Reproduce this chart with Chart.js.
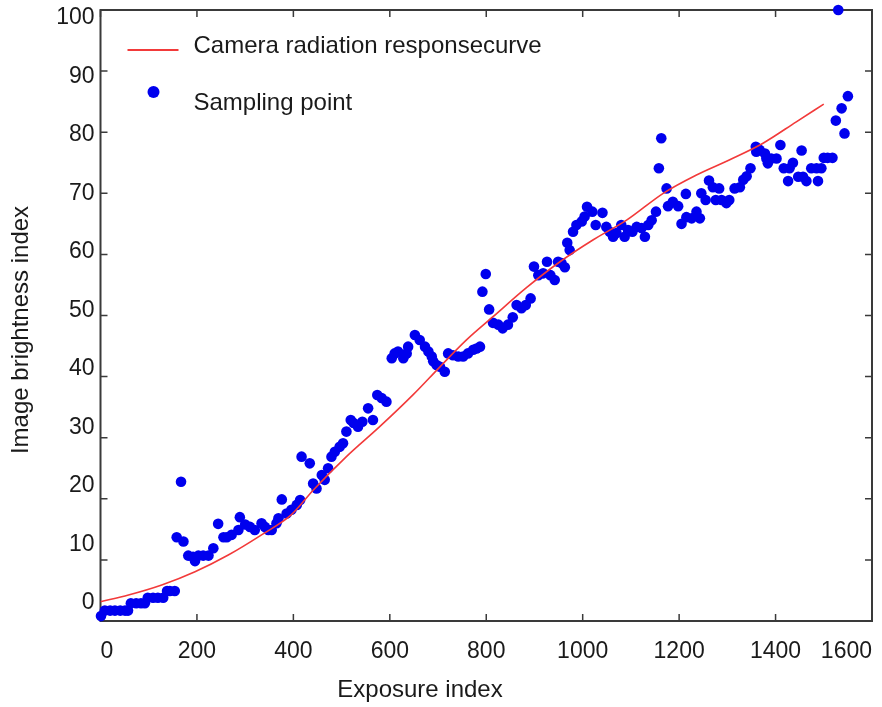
<!DOCTYPE html>
<html lang="en">
<head>
    <meta charset="UTF-8">
    <title>Camera radiation response</title>
    <script src="https://cdn.jsdelivr.net/npm/chart.js"></script>
    <style>
        html, body { margin: 0; padding: 0; background: #fff; }
    </style>
</head>
<body>
    <canvas id="responseChart" width="882" height="707"></canvas>

    <script>
        // values
        const sampleExposure = [
            1, 9, 20, 30, 41, 51, 57, 63, 74, 84, 92, 98, 109, 119, 130, 138, 144, 154,
            158, 167, 172, 182, 192, 196, 203, 213, 224, 234, 244, 255, 262, 272, 286, 289,
            300, 310, 320, 334, 341, 348, 355, 365, 369, 376, 386, 396, 407, 414, 417, 434,
            441, 448, 459, 465, 472, 479, 486, 496, 503, 510, 519, 525, 534, 543, 555, 565,
            574, 583, 593, 604, 610, 617, 628, 635, 638, 652, 662, 673, 680, 687, 690, 697,
            704, 714, 721, 731, 742, 752, 762, 773, 780, 787, 792, 799, 806, 814, 825, 834,
            845, 855, 863, 873, 882, 892, 899, 908, 918, 926, 933, 942, 949, 956, 963, 968,
            973, 980, 987, 998, 1004, 1009, 1020, 1027, 1041, 1049, 1056, 1063, 1070, 1080,
            1087, 1094, 1103, 1112, 1122, 1129, 1136, 1143, 1152, 1158, 1163, 1174, 1177,
            1187, 1198, 1205, 1214, 1215, 1226, 1236, 1243, 1246, 1255, 1262, 1270, 1276,
            1283, 1288, 1298, 1304, 1315, 1326, 1333, 1340, 1348, 1359, 1360, 1367, 1378,
            1381, 1384, 1391, 1402, 1410, 1417, 1426, 1429, 1436, 1447, 1454, 1457, 1464,
            1474, 1485, 1488, 1495, 1500, 1508, 1518, 1525, 1530, 1537, 1543, 1550
        ];
        const sampleBrightness = [
            0.8, 1.7, 1.7, 1.7, 1.7, 1.7, 1.7, 2.9, 2.9, 2.9, 2.9, 3.8, 3.8, 3.8, 3.8, 4.9, 4.9, 4.9,
            13.7, 22.8, 13.0, 10.7, 10.5, 9.8, 10.7, 10.7, 10.7, 11.9, 15.9, 13.7, 13.7, 14.1, 14.9, 17.0,
            15.8, 15.4, 14.9, 16.0, 15.4, 14.9, 14.9, 16.0, 16.8, 19.9, 17.6, 18.2, 19.0, 19.8, 26.9, 25.8,
            22.5, 21.7, 23.9, 23.1, 25.0, 26.9, 27.7, 28.5, 29.1, 31.0, 32.9, 32.4, 31.8, 32.6, 34.8, 32.9,
            37.0, 36.5, 35.9, 43.0, 43.8, 44.1, 43.0, 43.8, 44.9, 46.8, 46.0, 44.9, 44.1, 43.3, 42.5, 41.9,
            41.6, 40.8, 43.8, 43.5, 43.3, 43.3, 43.8, 44.4, 44.6, 44.9, 53.9, 56.8, 51.0, 48.8, 48.5, 47.9,
            48.5, 49.7, 51.7, 51.2, 51.7, 52.8, 58.0, 56.6, 56.9, 58.8, 56.6, 55.8, 58.8, 58.6, 57.9, 61.9,
            60.7, 63.7, 64.8, 65.4, 66.2, 67.8, 67.0, 64.8, 66.8, 64.5, 63.7, 62.9, 63.5, 64.8,
            62.9, 64.0, 63.7, 64.5, 64.3, 62.9, 64.8, 65.6, 67.0, 74.1, 79.0, 70.8, 67.9,
            68.6, 67.9, 65.0, 69.9, 66.1, 65.9, 67.0, 65.9, 70.0, 68.9, 72.1, 71.0, 68.9,
            70.8, 68.9, 68.4, 68.9, 70.8, 71.0, 72.2, 72.8, 74.1, 77.6, 76.8, 77.1, 76.5,
            75.7, 74.9, 75.7, 75.7, 77.9, 74.1, 72.0, 74.1, 75.0, 72.7, 77.0, 72.7, 72.0,
            74.1, 74.1, 72.0, 74.1, 75.8, 75.8, 75.8, 81.9, 100, 83.9, 79.8, 85.9
        ];
        const curveExposure = [0, 58, 127, 196, 265, 334, 396, 441, 510, 579, 648, 704, 759, 814, 884, 953, 1022, 1091, 1167, 1236, 1305, 1374, 1443, 1500];
        const curveBrightness = [3.16, 4.26, 5.9, 8.07, 10.8, 14.1, 17.4, 21.4, 26.9, 31.8, 37.0, 41.6, 46.0, 49.8, 54.6, 58.8, 62.4, 65.6, 70.0, 73.0, 75.5, 78.2, 81.7, 84.6];
        const xTicks = [0, 200, 400, 600, 800, 1000, 1200, 1400, 1600];
        const yTicks = [0, 10, 20, 30, 40, 50, 60, 70, 80, 90, 100];
        const xTitle = 'Exposure index';
        const yTitle = 'Image brightness index';

        const textColor = '#1a1a1a';
        const axisColor = '#3a3a3a';
        const redColor = '#f23a3a';
        const blueColor = '#0000ee';
        const fontFamily = 'Arial, "Liberation Sans", sans-serif';

        // plot frame with inward ticks, like the original figure
        const boxPlugin = {
            id: 'box',
            beforeDatasetsDraw(chart) {
                const { ctx, chartArea: a } = chart;
                const xs = chart.scales.x, ys = chart.scales.y;
                const len = 7;
                ctx.save();
                ctx.strokeStyle = axisColor;
                ctx.lineWidth = 2;
                ctx.strokeRect(a.left, a.top, a.right - a.left, a.bottom - a.top);
                ctx.lineWidth = 1.5;
                ctx.beginPath();
                xTicks.forEach(v => {
                    const px = xs.getPixelForValue(v);
                    ctx.moveTo(px, a.bottom); ctx.lineTo(px, a.bottom - len);
                    ctx.moveTo(px, a.top); ctx.lineTo(px, a.top + len);
                });
                yTicks.forEach(v => {
                    const py = ys.getPixelForValue(v);
                    ctx.moveTo(a.left, py); ctx.lineTo(a.left + len, py);
                    ctx.moveTo(a.right, py); ctx.lineTo(a.right - len, py);
                });
                ctx.stroke();
                ctx.restore();
            }
        };

        // legend inside the plot (top left) and the two axis titles,
        // which sit a bit off-centre in the original
        const legendPlugin = {
            id: 'innerLegend',
            afterDraw(chart) {
                const { ctx, chartArea: a } = chart;
                const line = chart.data.datasets[0], pts = chart.data.datasets[1];
                ctx.save();
                ctx.font = '24px ' + fontFamily;
                ctx.fillStyle = textColor;
                ctx.textBaseline = 'middle';
                ctx.textAlign = 'left';

                ctx.strokeStyle = line.borderColor;
                ctx.lineWidth = 2;
                ctx.beginPath();
                ctx.moveTo(a.left + 27, a.top + 40);
                ctx.lineTo(a.left + 78, a.top + 40);
                ctx.stroke();
                ctx.fillText(line.label, a.left + 93, a.top + 36);

                ctx.fillStyle = pts.backgroundColor;
                ctx.beginPath();
                ctx.arc(a.left + 53, a.top + 82, 6, 0, Math.PI * 2);
                ctx.fill();
                ctx.fillStyle = textColor;
                ctx.fillText(pts.label, a.left + 93, a.top + 93);

                ctx.textAlign = 'center';
                ctx.fillText(xTitle, 420, 690);
                ctx.translate(21, 330);
                ctx.rotate(-Math.PI / 2);
                ctx.fillText(yTitle, 0, 0);
                ctx.restore();
            }
        };

        const ctx = document.getElementById('responseChart').getContext('2d');
        const chart = new Chart(ctx, {
            type: 'scatter',
            data: {
                datasets: [{
                    type: 'line',
                    label: 'Camera radiation responsecurve',
                    data: curveExposure.map((x, i) => ({ x: x, y: curveBrightness[i] })),
                    borderColor: redColor,
                    borderWidth: 1.6,
                    pointRadius: 0,
                    cubicInterpolationMode: 'monotone',
                    fill: false,
                    yAxisID: 'y',
                    order: 0
                }, {
                    label: 'Sampling point',
                    data: sampleExposure.map((x, i) => ({ x: x, y: sampleBrightness[i] })),
                    backgroundColor: blueColor,
                    borderWidth: 0,
                    pointRadius: 5.3,
                    clip: false,
                    yAxisID: 'y',
                    order: 1
                }]
            },
            options: {
                responsive: false,
                animation: false,
                layout: { padding: { top: 10, right: 10, left: 0, bottom: 0 } },
                plugins: {
                    legend: { display: false },
                    tooltip: { enabled: false }
                },
                scales: {
                    x: {
                        type: 'linear',
                        min: 0,
                        max: 1600,
                        afterBuildTicks: s => { s.ticks = xTicks.map(v => ({ value: v })); },
                        afterFit: s => { s.height = 86; s.paddingLeft = 0; s.paddingRight = 0; },
                        grid: { display: false, drawTicks: false },
                        border: { display: false },
                        ticks: {
                            color: textColor,
                            padding: 17,
                            maxRotation: 0,
                            align: 'inner',
                            callback: v => String(v),
                            font: { family: fontFamily, size: 23 }
                        }
                    },
                    y: {
                        type: 'linear',
                        min: 0,
                        max: 100,
                        display: false
                    },
                    yLabels: {
                        type: 'linear',
                        position: 'left',
                        min: -3.08,
                        max: 101.37,
                        afterBuildTicks: s => { s.ticks = yTicks.map(v => ({ value: v })); },
                        afterFit: s => { s.width = 100.5; s.paddingTop = 0; s.paddingBottom = 0; },
                        grid: { display: false, drawTicks: false },
                        border: { display: false },
                        ticks: {
                            color: textColor,
                            padding: 6,
                            callback: v => String(v),
                            font: { family: fontFamily, size: 23 }
                        }
                    }
                }
            },
            plugins: [boxPlugin, legendPlugin]
        });
    </script>
</body>
</html>
